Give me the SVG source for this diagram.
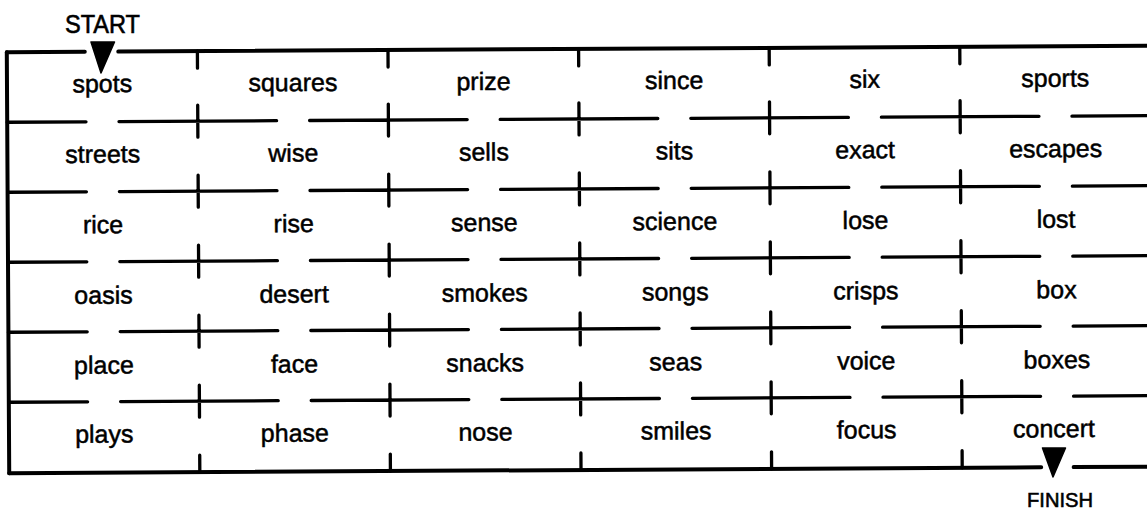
<svg xmlns="http://www.w3.org/2000/svg" xmlns:xlink="http://www.w3.org/1999/xlink" width="1147" height="511" viewBox="0 0 1147 511">
  <style>
    .border { fill: none; stroke: #000; stroke-width: 4; stroke-linecap: round; }
    .wall { fill: none; stroke: #000; stroke-width: 3.3; stroke-linecap: round; }
    .word { font-family: "Liberation Sans", Arial, sans-serif; font-size: 25px; text-anchor: middle; fill: #000; stroke: #000; stroke-width: 0.5; }
    .label { font-family: "Liberation Sans", Arial, sans-serif; text-anchor: middle; fill: #000; stroke: #000; stroke-width: 0.6; }
    .arrow { fill: #000; stroke: #000; stroke-width: 1.5; stroke-linejoin: round; }
  </style>
  <defs>
    <path id="rowwall" class="wall" d="M8 0 H86.8 M119.8 0 H277.4 M310.4 0 H468 M501 0 H658.6 M691.6 0 H849.2 M882.2 0 H1039.8 M1072.8 0 H1160 M198.6 -16 V16 M389.2 -16 V16 M579.8 -16 V16 M770.4 -16 V16 M961 -16 V16"/>
  </defs>
  <rect width="1147" height="511" fill="#fff"/>
  <g transform="rotate(-0.33 573 260)">
    <g id="connectors">
      <path class="border" d="M8 49 V470"/>
      <path class="border" d="M8 49 H86 M119.5 49 H1165"/>
      <path class="wall" d="M198.6 49 V66 M389.2 49 V66 M579.8 49 V66 M770.4 49 V66 M961 49 V66"/>
      <use xlink:href="#rowwall" href="#rowwall" y="119"/>
      <use xlink:href="#rowwall" href="#rowwall" y="189"/>
      <use xlink:href="#rowwall" href="#rowwall" y="259"/>
      <use xlink:href="#rowwall" href="#rowwall" y="329"/>
      <use xlink:href="#rowwall" href="#rowwall" y="399"/>
      <path class="border" d="M8 470 H1040 M1072.5 470 H1165"/>
      <path class="wall" d="M198.6 470 V453 M389.2 470 V453 M579.8 470 V453 M770.4 470 V453 M961 470 V453"/>
    </g>
    <g id="r0">
      <g id="n-spots"><text class="word" x="103.3" y="89.5">spots</text></g>
      <g id="n-squares"><text class="word" x="293.9" y="89.5">squares</text></g>
      <g id="n-prize"><text class="word" x="484.5" y="89.5">prize</text></g>
      <g id="n-since"><text class="word" x="675.1" y="89.5">since</text></g>
      <g id="n-six"><text class="word" x="865.7" y="89.5">six</text></g>
      <g id="n-sports"><text class="word" x="1056.3" y="89.5">sports</text></g>
    </g>
    <g id="r1">
      <g id="n-streets"><text class="word" x="103.3" y="160">streets</text></g>
      <g id="n-wise"><text class="word" x="293.9" y="160">wise</text></g>
      <g id="n-sells"><text class="word" x="484.5" y="160">sells</text></g>
      <g id="n-sits"><text class="word" x="675.1" y="160">sits</text></g>
      <g id="n-exact"><text class="word" x="865.7" y="160">exact</text></g>
      <g id="n-escapes"><text class="word" x="1056.3" y="160">escapes</text></g>
    </g>
    <g id="r2">
      <g id="n-rice"><text class="word" x="103.3" y="230.5">rice</text></g>
      <g id="n-rise"><text class="word" x="293.9" y="230.5">rise</text></g>
      <g id="n-sense"><text class="word" x="484.5" y="230.5">sense</text></g>
      <g id="n-science"><text class="word" x="675.1" y="230.5">science</text></g>
      <g id="n-lose"><text class="word" x="865.7" y="230.5">lose</text></g>
      <g id="n-lost"><text class="word" x="1056.3" y="230.5">lost</text></g>
    </g>
    <g id="r3">
      <g id="n-oasis"><text class="word" x="103.3" y="301">oasis</text></g>
      <g id="n-desert"><text class="word" x="293.9" y="301">desert</text></g>
      <g id="n-smokes"><text class="word" x="484.5" y="301">smokes</text></g>
      <g id="n-songs"><text class="word" x="675.1" y="301">songs</text></g>
      <g id="n-crisps"><text class="word" x="865.7" y="301">crisps</text></g>
      <g id="n-box"><text class="word" x="1056.3" y="301">box</text></g>
    </g>
    <g id="r4">
      <g id="n-place"><text class="word" x="103.3" y="371">place</text></g>
      <g id="n-face"><text class="word" x="293.9" y="371">face</text></g>
      <g id="n-snacks"><text class="word" x="484.5" y="371">snacks</text></g>
      <g id="n-seas"><text class="word" x="675.1" y="371">seas</text></g>
      <g id="n-voice"><text class="word" x="865.7" y="371">voice</text></g>
      <g id="n-boxes"><text class="word" x="1056.3" y="371">boxes</text></g>
    </g>
    <g id="r5">
      <g id="n-plays"><text class="word" x="103.3" y="440">plays</text></g>
      <g id="n-phase"><text class="word" x="293.9" y="440">phase</text></g>
      <g id="n-nose"><text class="word" x="484.5" y="440">nose</text></g>
      <g id="n-smiles"><text class="word" x="675.1" y="440">smiles</text></g>
      <g id="n-focus"><text class="word" x="865.7" y="440">focus</text></g>
      <g id="n-concert"><text class="word" x="1053" y="440">concert</text></g>
    </g>
  </g>
  <g id="start">
    <text class="label" x="102.5" y="33" font-size="25" textLength="75" lengthAdjust="spacingAndGlyphs">START</text>
    <polygon class="arrow" points="91,42 114.5,42 101,73"/>
  </g>
  <g id="finish">
    <polygon class="arrow" points="1042.5,448 1065.5,448 1053,477"/>
    <text class="label" x="1060" y="507" font-size="21" textLength="66" lengthAdjust="spacingAndGlyphs">FINISH</text>
  </g>
</svg>
